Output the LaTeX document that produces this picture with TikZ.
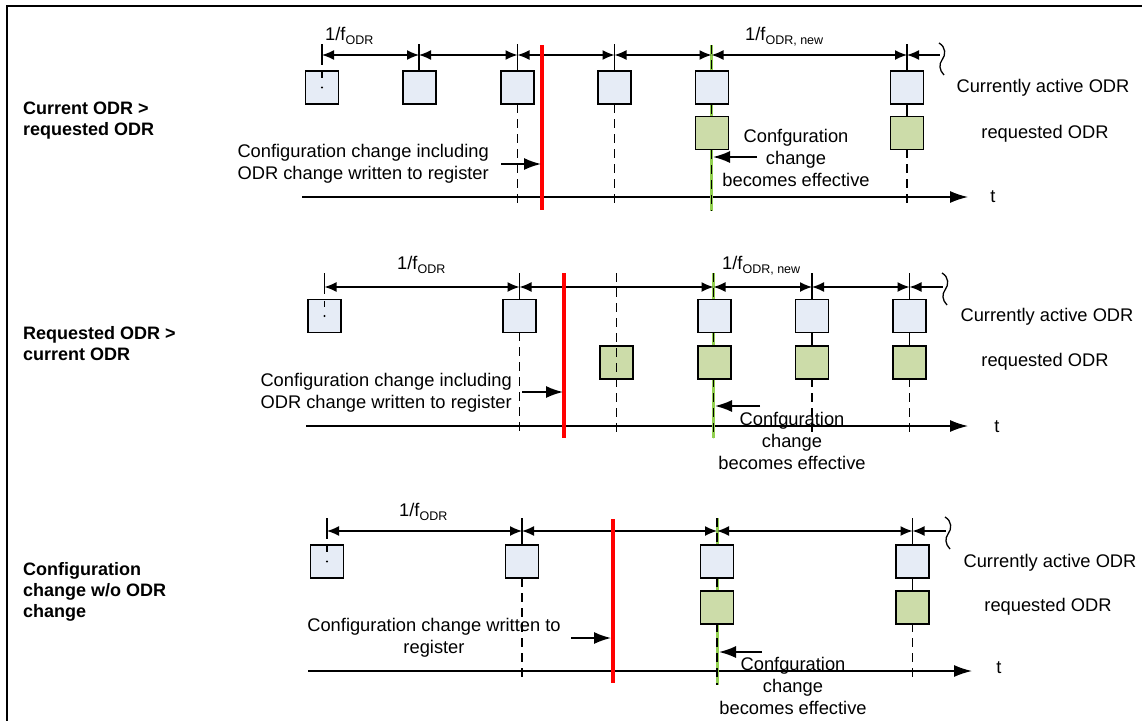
\documentclass[tikz,border=0pt]{standalone}
\usepackage{fontspec}
\setmainfont{Liberation Sans}
\usetikzlibrary{arrows.meta}
\definecolor{boxblue}{HTML}{E6ECF6}
\definecolor{boxgreen}{HTML}{CCDCA9}
\definecolor{lgreen}{HTML}{92D050}
\newcommand\osub[1]{\raisebox{-0.5ex}{\fontsize{12.5}{12.5}\selectfont #1}}
\begin{document}
\begin{tikzpicture}[x=1pt,y=-1pt,
  txt/.style={font=\fontsize{18.3}{22}\selectfont, inner sep=0},
  lbl/.style={font=\fontsize{18}{21}\selectfont\bfseries, inner sep=0, align=left, anchor=west},
  bbox/.style={draw=black, line width=1.8, fill=boxblue, minimum width=33, minimum height=33, inner sep=0},
  gbox/.style={bbox, fill=boxgreen},
  ln/.style={line width=1.4},
  dim/.style={line width=1.4, {Latex[length=12pt,width=10pt]}-{Latex[length=12pt,width=10pt]}},
  diml/.style={line width=1.4, {Latex[length=12pt,width=10pt]}-},
  dsh/.style={line width=1.4, dash pattern=on 9pt off 6pt},
  redl/.style={draw=red, line width=3.2},
  grnl/.style={draw=lgreen, line width=3},
  axis/.style={line width=1.5, -{Latex[length=18pt,width=12pt]}},
  push/.style={line width=1.6, -{Latex[length=17pt,width=12pt]}},
  squig/.pic={\draw[line width=1.3] (0,0) .. controls (7,4) and (7,12) .. (3,17) .. controls (0,21) and (0,27) .. (5,32);}
]
\useasboundingbox (0,0) rectangle (1142,720);
\draw[line width=2.5] (7,722) -- (7,6) -- (1144,6);

% ================= Panel 1 =================
\node[lbl] (L1) at (23,121) {Current ODR >\\requested ODR};
\coordinate (A1t) at (322,44);  \coordinate (A1d) at (322,55);
\coordinate (A2t) at (419,44);  \coordinate (A2d) at (419,55);
\coordinate (A3t) at (517.5,44);  \coordinate (A3d) at (517.5,55); \coordinate (A3b) at (517.5,205);
\coordinate (A4t) at (614.5,44);  \coordinate (A4d) at (614.5,55); \coordinate (A4b) at (614.5,205);
\coordinate (A5t) at (711.5,45);  \coordinate (A5d) at (711.5,55); \coordinate (A5b) at (711.5,211);
\coordinate (A6t) at (907,44);  \coordinate (A6d) at (907,55); \coordinate (A6b) at (907,205);
\coordinate (Aend) at (940,55);
\coordinate (Ar1) at (542,45); \coordinate (Ar2) at (542,210);
\coordinate (Ax1) at (302,197); \coordinate (Ax2) at (968,197);
\coordinate (Ap1) at (501,164); \coordinate (Ap2) at (541,164);
\coordinate (Ae1) at (757,157); \coordinate (Ae2) at (713,157);
\draw[axis] (Ax1) -- (Ax2);
\draw[ln] (A1t) -- (322,65);
\draw[ln] (A2t) -- (419,72);
\draw[ln] (A3t) -- (517.5,72);
\draw[dsh] (517.5,104) -- (A3b);
\draw[ln] (A4t) -- (614.5,72);
\draw[dsh] (614.5,104) -- (A4b);
\draw[grnl] (A5t) -- (A5b);
\draw[dsh] (A5t) -- (A5b);
\draw[ln] (A6t) -- (907,72) (907,103) -- (907,118);
\draw[dsh] (907,149) -- (A6b);
\draw[dim] (A1d) -- (A2d);
\draw[dim] (A2d) -- (A3d);
\draw[dim] (A3d) -- (A4d);
\draw[dim] (A4d) -- (A5d);
\draw[dim] (A5d) -- (A6d);
\draw[diml] (A6d) -- (Aend);
\pic at (939,43) {squig};
\draw[redl] (Ar1) -- (Ar2);
\node[bbox] (A1) at (322,87.5) {};
\draw[ln] (322,71.5) -- (322,78);
\fill (A1.center) circle (1.1);
\node[bbox] (A2) at (419.5,87.5) {};
\node[bbox] (A3) at (517.5,87.5) {};
\node[bbox] (A4) at (614.5,87.5) {};
\node[bbox] (A5) at (712,87.5) {};
\node[bbox] (A6) at (907,87.5) {};
\node[gbox] (AG5) at (712,133) {};
\node[gbox] (AG6) at (907,133) {};
\draw[push] (Ap1) -- (Ap2);
\draw[push] (Ae1) -- (Ae2);
\node[txt, anchor=base west] (Af1) at (325,40) {1/f\osub{ODR}};
\node[txt, anchor=base west] (Af2) at (745,40) {1/f\osub{ODR, new}};
\node[txt, align=right, anchor=east] (Aw) at (489,164) {Configuration change including\\ODR change written to register};
\node[txt, align=center] (Ac) at (796,158) {Confguration\\change\\becomes effective};
\node[txt] (Aca) at (1043,88) {Currently active ODR};
\node[txt] (Arq) at (1045,134) {requested ODR};
\node[txt] (At) at (993,197) {t};

% ================= Panel 2 =================
\node[lbl] (L2) at (23,344) {Requested ODR >\\current ODR};
\coordinate (B1t) at (324.5,273);  \coordinate (B1d) at (324.5,287);
\coordinate (B2t) at (519.5,273);  \coordinate (B2d) at (519.5,287); \coordinate (B2b) at (519.5,433);
\coordinate (B3t) at (616.5,273);  \coordinate (B3b) at (616.5,433);
\coordinate (B4t) at (713.5,273);  \coordinate (B4d) at (713.5,287); \coordinate (B4b) at (713.5,438);
\coordinate (B5t) at (812,273);  \coordinate (B5d) at (812,287); \coordinate (B5b) at (812,433);
\coordinate (B6t) at (909.5,273);  \coordinate (B6d) at (909.5,287); \coordinate (B6b) at (909.5,433);
\coordinate (Bend) at (943,287);
\coordinate (Br1) at (564,273); \coordinate (Br2) at (564,438);
\coordinate (Bx1) at (306,426); \coordinate (Bx2) at (968,426);
\coordinate (Bp1) at (522,392); \coordinate (Bp2) at (563,392);
\coordinate (Be1) at (760,406); \coordinate (Be2) at (715,406);
\draw[axis] (Bx1) -- (Bx2);
\draw[ln] (B1t) -- (324.5,294);
\draw[ln] (B2t) -- (519.5,301);
\draw[dsh] (519.5,332) -- (B2b);
\draw[grnl] (B4t) -- (B4b);
\draw[dsh] (B4t) -- (B4b);
\draw[ln] (B5t) -- (812,301) (812,332) -- (812,348);
\draw[dsh] (812,378) -- (B5b);
\draw[ln] (B6t) -- (909.5,301) (909.5,332) -- (909.5,348);
\draw[dsh] (909.5,378) -- (B6b);
\draw[dim] (B1d) -- (B2d);
\draw[dim] (B2d) -- (B4d);
\draw[dim] (B4d) -- (B5d);
\draw[dim] (B5d) -- (B6d);
\draw[diml] (B6d) -- (Bend);
\pic at (942,273) {squig};
\draw[redl] (Br1) -- (Br2);
\node[bbox] (B1) at (324.5,316) {};
\draw[ln] (324.5,300.5) -- (324.5,307);
\fill (B1.center) circle (1.1);
\node[bbox] (B2) at (519.5,316) {};
\node[bbox] (B4) at (714.5,316) {};
\node[bbox] (B5) at (812,316) {};
\node[bbox] (B6) at (909.5,316) {};
\node[gbox] (BG3) at (616.5,362.5) {};
\node[gbox] (BG4) at (714.5,362.5) {};
\node[gbox] (BG5) at (812,362.5) {};
\node[gbox] (BG6) at (909.5,362.5) {};
\draw[dsh] (B3t) -- (B3b);
\draw[push] (Bp1) -- (Bp2);
\draw[push] (Be1) -- (Be2);
\node[txt, anchor=base west] (Bf1) at (397,269) {1/f\osub{ODR}};
\node[txt, anchor=base west] (Bf2) at (722,269) {1/f\osub{ODR, new}};
\node[txt, align=right, anchor=east] (Bw) at (512,393) {Configuration change including\\ODR change written to register};
\node[txt, align=center] (Bc) at (792,441) {Confguration\\change\\becomes effective};
\node[txt] (Bca) at (1047,317) {Currently active ODR};
\node[txt] (Brq) at (1045,362) {requested ODR};
\node[txt] (Bt) at (997,427) {t};

% ================= Panel 3 =================
\node[lbl] (L3) at (23,592) {Configuration\\change w/o ODR\\change};
\coordinate (C1t) at (327,518);  \coordinate (C1d) at (327,531);
\coordinate (C2t) at (522,518);  \coordinate (C2d) at (522,531); \coordinate (C2b) at (522,678);
\coordinate (C3t) at (717,518);  \coordinate (C3d) at (717,531); \coordinate (C3b) at (717,685);
\coordinate (C4t) at (912.5,518);  \coordinate (C4d) at (912.5,531); \coordinate (C4b) at (912.5,678);
\coordinate (Cend) at (946,531);
\coordinate (Cr1) at (613,519); \coordinate (Cr2) at (613,683);
\coordinate (Cx1) at (308,671); \coordinate (Cx2) at (972,671);
\coordinate (Cp1) at (571,638); \coordinate (Cp2) at (611,638);
\coordinate (Ce1) at (762,652); \coordinate (Ce2) at (719,652);
\draw[axis] (Cx1) -- (Cx2);
\draw[ln] (C1t) -- (327,539);
\draw[ln] (C2t) -- (522,546);
\draw[dsh] (522,578) -- (C2b);
\draw[grnl] (C3t) -- (C3b);
\draw[dsh] (C3t) -- (C3b);
\draw[ln] (C4t) -- (912.5,546) (912.5,578) -- (912.5,593);
\draw[dsh] (912.5,623) -- (C4b);
\draw[dim] (C1d) -- (C2d);
\draw[dim] (C2d) -- (C3d);
\draw[dim] (C3d) -- (C4d);
\draw[diml] (C4d) -- (Cend);
\pic at (945,517) {squig};
\draw[redl] (Cr1) -- (Cr2);
\node[bbox] (C1) at (327,561.5) {};
\draw[ln] (327,545.5) -- (327,552);
\fill (C1.center) circle (1.1);
\node[bbox] (C2) at (522,561.5) {};
\node[bbox] (C3) at (717,561.5) {};
\node[bbox] (C4) at (912.5,561.5) {};
\node[gbox] (CG3) at (717,607.5) {};
\node[gbox] (CG4) at (912.5,607.5) {};
\draw[push] (Cp1) -- (Cp2);
\draw[push] (Ce1) -- (Ce2);
\node[txt, anchor=base west] (Cf1) at (399,516) {1/f\osub{ODR}};
\node[txt, align=center] (Cw) at (434,638) {Configuration change written to\\register};
\node[txt, align=center] (Cc) at (793,686) {Confguration\\change\\becomes effective};
\node[txt] (Cca) at (1050,563) {Currently active ODR};
\node[txt] (Crq) at (1048,607) {requested ODR};
\node[txt] (Ct) at (999,668) {t};
\end{tikzpicture}
\end{document}
